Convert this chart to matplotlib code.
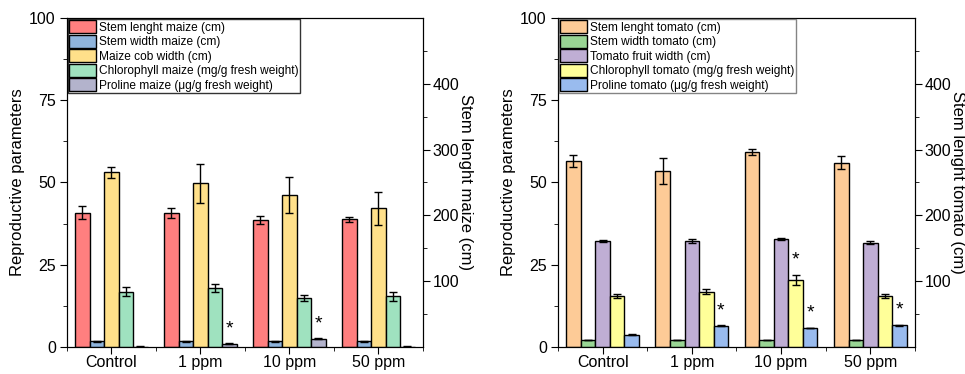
import numpy as np
import matplotlib
matplotlib.use('Agg')
import matplotlib.pyplot as plt
from matplotlib.ticker import MultipleLocator, FixedLocator

plt.rcParams['font.family'] = ['Liberation Sans', 'DejaVu Sans']

groups = ['Control', '1 ppm', '10 ppm', '50 ppm']

# maize (stem length is read on the right axis, the rest on the left axis)
maize_labels = ['Stem lenght maize (cm)', 'Stem width maize (cm)', 'Maize cob width (cm)',
                'Chlorophyll maize (mg/g fresh weight)', 'Proline maize (μg/g fresh weight)']
maize_stem_len = [204, 203, 193, 194]
maize_stem_len_err = [10, 7.5, 5.8, 4.3]
maize_stem_width = [1.7, 1.7, 1.7, 1.7]
maize_stem_width_err = [0.1, 0.1, 0.1, 0.1]
maize_cob = [53.1, 49.7, 46.1, 42.2]
maize_cob_err = [1.6, 5.8, 5.45, 5.0]
maize_chl = [16.8, 17.9, 15.0, 15.4]
maize_chl_err = [1.4, 1.25, 0.9, 1.3]
maize_pro = [0.15, 1.0, 2.5, 0.15]
maize_pro_err = [0.05, 0.1, 0.1, 0.05]
maize_colors = ['#FF7F7F', '#8FB4DC', '#FFE08A', '#9FE2BF', '#B3B3CC']
maize_stars = [(1, 'pro'), (2, 'pro')]

# tomato
tomato_labels = ['Stem lenght tomato (cm)', 'Stem width tomato (cm)', 'Tomato fruit width (cm)',
                 'Chlorophyll tomato (mg/g fresh weight)', 'Proline tomato (μg/g fresh weight)']
tomato_stem_len = [283, 267.5, 296, 280]
tomato_stem_len_err = [9.5, 19.7, 4.3, 10.2]
tomato_stem_width = [2.1, 2.1, 2.1, 2.1]
tomato_stem_width_err = [0.1, 0.1, 0.1, 0.1]
tomato_fruit = [32.2, 32.2, 32.9, 31.7]
tomato_fruit_err = [0.3, 0.5, 0.3, 0.4]
tomato_chl = [15.4, 16.8, 20.3, 15.5]
tomato_chl_err = [0.6, 0.7, 1.6, 0.7]
tomato_pro = [3.7, 6.5, 5.8, 6.6]
tomato_pro_err = [0.1, 0.1, 0.1, 0.1]
tomato_colors = ['#FDCB97', '#99D594', '#BFAED4', '#FFFF99', '#99BBEE']
tomato_stars = [(1, 'pro'), (2, 'chl'), (2, 'pro'), (3, 'pro')]

fig = plt.figure(figsize=(9.65, 3.74), dpi=100)


def panel(rect, labels, stem_len, stem_len_err, left_series, colors, stars, right_label, legend_edge):
    ax = fig.add_axes(rect)
    ax2 = ax.twinx()
    x = np.arange(len(groups))
    w = 0.163
    ekw = dict(ecolor='black', elinewidth=1, capsize=3, capthick=1)
    handles = []
    b = ax2.bar(x - 2 * w, stem_len, w, yerr=stem_len_err, color=colors[0],
                edgecolor='black', linewidth=1, error_kw=ekw, label=labels[0])
    handles.append(b)
    tops = {}
    for i, (key, vals, errs) in enumerate(left_series):
        b = ax.bar(x + (i - 1) * w, vals, w, yerr=errs, color=colors[i + 1],
                   edgecolor='black', linewidth=1, error_kw=ekw, label=labels[i + 1])
        handles.append(b)
        tops[key] = (i - 1, vals, errs)
    for g, key in stars:
        off, vals, errs = tops[key]
        ax.text(g + off * w, vals[g] + errs[g] + 4.5, '*', ha='center', va='center', fontsize=14)

    ax.set_xlim(-0.5, 3.5)
    ax.set_ylim(0, 100)
    ax2.set_ylim(0, 500)
    ax.set_xticks(x)
    ax.set_xticklabels(groups)
    ax.xaxis.set_minor_locator(FixedLocator([-0.5, 0.5, 1.5, 2.5, 3.5]))
    ax.yaxis.set_major_locator(MultipleLocator(25))
    ax.yaxis.set_minor_locator(MultipleLocator(12.5))
    ax2.yaxis.set_major_locator(FixedLocator([100, 200, 300, 400]))
    ax2.yaxis.set_minor_locator(FixedLocator([50, 150, 250, 350, 450]))
    ax.tick_params(axis='both', which='major', direction='out', length=5, labelsize=11.5, pad=3)
    ax.tick_params(axis='x', which='major', pad=1)
    ax.tick_params(axis='both', which='minor', direction='out', length=3)
    ax2.tick_params(axis='y', which='major', direction='out', length=5, labelsize=11.5, pad=2)
    ax2.tick_params(axis='y', which='minor', direction='out', length=3)
    ax2.xaxis.set_ticks_position('top')
    ax2.tick_params(axis='x', which='both', direction='in', labeltop=False)
    ax.set_ylabel('Reproductive parameters', fontsize=12, labelpad=3)
    ax2.set_ylabel(right_label, fontsize=12, rotation=270, labelpad=10)
    ax.set_zorder(ax2.get_zorder() + 1)
    ax.patch.set_visible(False)

    leg = ax.legend(handles=handles, loc='upper left', bbox_to_anchor=(0, 1), borderaxespad=0.1,
                    fontsize=8.6, frameon=True, fancybox=False, handlelength=2.25, handleheight=1.25,
                    handletextpad=0.25, labelspacing=0.1, borderpad=0.1)
    leg.get_frame().set_edgecolor(legend_edge)
    leg.get_frame().set_linewidth(1)
    return ax, ax2


panel([0.0694, 0.0722, 0.3689, 0.8797], maize_labels, maize_stem_len, maize_stem_len_err,
      [('sw', maize_stem_width, maize_stem_width_err), ('cob', maize_cob, maize_cob_err),
       ('chl', maize_chl, maize_chl_err), ('pro', maize_pro, maize_pro_err)],
      maize_colors, maize_stars, 'Stem lenght maize (cm)', 'black')

panel([0.5782, 0.0722, 0.3700, 0.8797], tomato_labels, tomato_stem_len, tomato_stem_len_err,
      [('sw', tomato_stem_width, tomato_stem_width_err), ('fruit', tomato_fruit, tomato_fruit_err),
       ('chl', tomato_chl, tomato_chl_err), ('pro', tomato_pro, tomato_pro_err)],
      tomato_colors, tomato_stars, 'Stem lenght tomato (cm)', '#666666')

fig.savefig('out.png', dpi=100)
